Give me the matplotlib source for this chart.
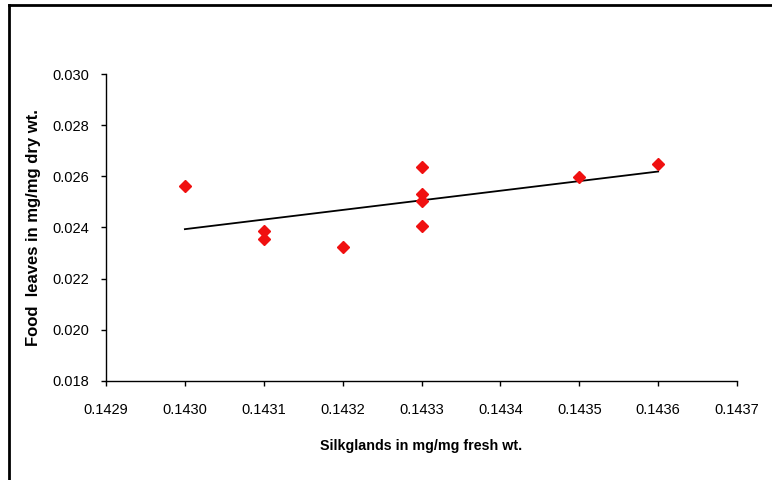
import numpy as np
import matplotlib
matplotlib.use("Agg")
import matplotlib.pyplot as plt
from matplotlib.lines import Line2D

plt.rcParams['font.family'] = ['Liberation Sans', 'DejaVu Sans']

# Data
silk = [0.1430, 0.1431, 0.1431, 0.1432, 0.1433, 0.1433, 0.1433, 0.1433, 0.1435, 0.1436]
food = [0.02562, 0.02386, 0.02355, 0.02324, 0.02636, 0.02531, 0.02504, 0.02406, 0.02597, 0.02648]

x_ticks = [0.1429, 0.1430, 0.1431, 0.1432, 0.1433, 0.1434, 0.1435, 0.1436, 0.1437]
y_ticks = [0.018, 0.020, 0.022, 0.024, 0.026, 0.028, 0.030]

fig = plt.figure(figsize=(7.72, 4.8), dpi=100)
ax = fig.add_axes([0.1373, 0.2063, 0.8174, 0.6395])

# linear trendline
slope, icpt = np.polyfit(silk, food, 1)
xl = np.array([min(silk), max(silk)])
ax.plot(xl, slope * xl + icpt, color='black', lw=1.3, zorder=2)

ax.plot(silk, food, linestyle='none', marker='D', ms=6.5,
        color='#f01010', mec='#f01010', zorder=3)

ax.set_xlim(x_ticks[0], x_ticks[-1])
ax.set_ylim(y_ticks[0], y_ticks[-1])
ax.set_xticks(x_ticks)
ax.set_yticks(y_ticks)
ax.set_xticklabels([f"{v:.4f}" for v in x_ticks])
ax.set_yticklabels([f"{v:.3f}" for v in y_ticks])
ax.tick_params(labelsize=10.5, length=3.6, width=1, direction='out')
ax.tick_params(axis='x', pad=12.5)
ax.tick_params(axis='y', pad=8.5)

for s in ['top', 'right']:
    ax.spines[s].set_visible(False)
for s in ['left', 'bottom']:
    ax.spines[s].set_linewidth(1)

ax.set_xlabel("Silkglands in mg/mg fresh wt.", fontsize=10.3, fontweight='bold', labelpad=15.5)
ax.set_ylabel("Food  leaves in mg/mg dry wt.", fontsize=12, fontweight='bold', labelpad=8)

# outer frame (top and left edges)
fig.add_artist(Line2D([0.012, 0.012], [0.0, 0.99], transform=fig.transFigure, color='black', lw=2))
fig.add_artist(Line2D([0.012, 1.0], [0.99, 0.99], transform=fig.transFigure, color='black', lw=2))

fig.savefig("out.png", dpi=100)
